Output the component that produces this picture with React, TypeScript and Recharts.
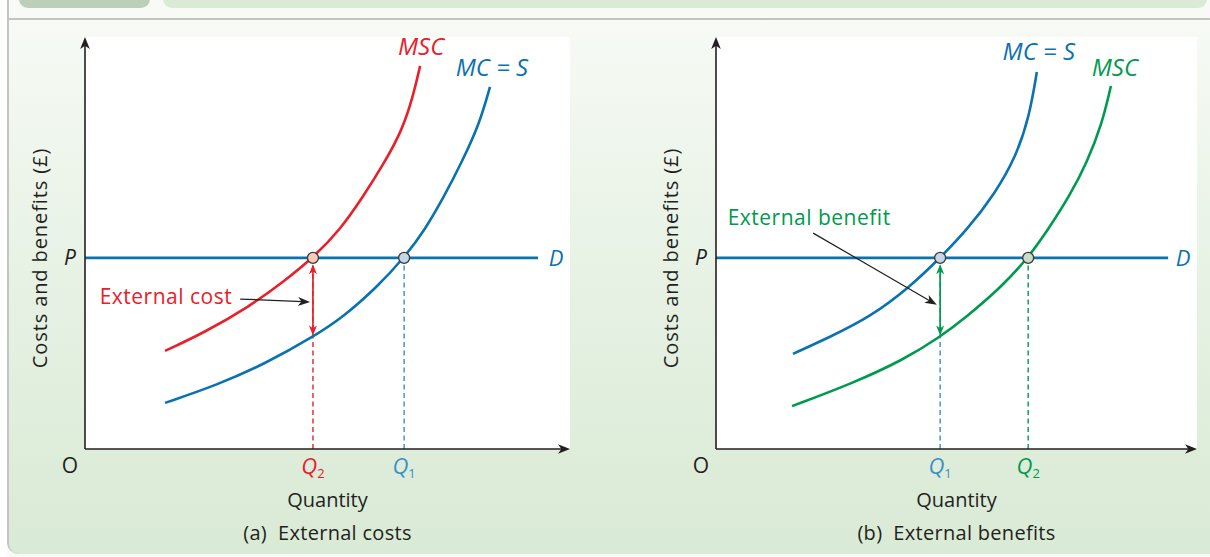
import type { ReactNode } from 'react'
import {
  ComposedChart,
  Line,
  XAxis,
  YAxis,
  CartesianGrid,
  ReferenceLine,
  ReferenceDot,
} from 'recharts'

const FONT = '"Open Sans", "Noto Sans", sans-serif'
const INK = '#231f20'
const RED = '#e8202a'
const BLUE = '#0b72b0'
const LIGHT_BLUE = '#3b8fc6'
const GREEN = '#009a4e'

// (a) External costs: quantity / £ pairs (axes run 0–100)
const A_MC_Q = [16.5, 27.2, 37.5, 47.0, 53.2, 60.2, 65.8, 70.1, 74.0, 77.6, 81.4, 83.5]
const A_MC_C = [11.2, 15.5, 20.9, 27.2, 32.0, 39.3, 46.4, 53.2, 61.2, 69.4, 79.1, 87.9]
const A_MSC_Q = [16.5, 24.5, 33.8, 40.8, 47.0, 52.6, 57.3, 61.7, 65.4, 67.6, 69.1]
const A_MSC_C = [23.8, 28.2, 34.5, 40.5, 46.4, 53.2, 61.2, 69.4, 77.4, 85.4, 93.0]
const A_P = 46.4
const A_Q1 = 65.8
const A_Q2 = 47.0
const A_MC_AT_Q2 = 27.2
const A_D_END = 93.4
const A_NOTE_FROM = [32.0, 36.4]
const A_NOTE_TO = [46.4, 35.7]

// (b) External benefits
const B_MC_Q = [16.0, 23.7, 32.0, 40.3, 46.6, 52.2, 58.0, 62.4, 65.2, 66.7]
const B_MC_C = [23.1, 27.2, 32.0, 39.3, 46.4, 53.2, 62.0, 71.0, 81.0, 91.5]
const B_MSC_Q = [15.8, 28.5, 38.9, 46.6, 52.0, 59.3, 64.9, 69.0, 73.4, 77.1, 80.3, 82.1]
const B_MSC_C = [10.4, 16.0, 21.6, 27.2, 32.0, 39.3, 46.4, 53.2, 61.2, 69.4, 79.1, 88.1]
const B_P = 46.4
const B_Q1 = 46.6
const B_Q2 = 64.9
const B_MSC_AT_Q1 = 27.2
const B_D_END = 94.0
const B_NOTE_FROM = [20.2, 52.4]
const B_NOTE_TO = [45.9, 35.0]

const zip = (q: number[], c: number[]) => q.map((v, i) => ({ q: v, c: c[i] }))

interface ArrowOpts {
  start?: boolean
  end?: boolean
  padStart?: number
  padEnd?: number
  len?: number
  half?: number
}

// ReferenceLine shape: a line with stealth arrow heads
const arrow = (color: string, width: number, o: ArrowOpts) => (p: any) => {
  const { x1, y1, x2, y2 } = p
  const dx = x2 - x1
  const dy = y2 - y1
  const L = Math.hypot(dx, dy) || 1
  const ux = dx / L
  const uy = dy / L
  const len = o.len ?? 10
  const half = o.half ?? 4
  const sx = x1 + ux * (o.padStart ?? 0)
  const sy = y1 + uy * (o.padStart ?? 0)
  const ex = x2 - ux * (o.padEnd ?? 0)
  const ey = y2 - uy * (o.padEnd ?? 0)
  const head = (tx: number, ty: number, vx: number, vy: number) => {
    const bx = tx - vx * len
    const by = ty - vy * len
    const mx = tx - vx * len * 0.72
    const my = ty - vy * len * 0.72
    return `${tx},${ty} ${bx - vy * half},${by + vx * half} ${mx},${my} ${bx + vy * half},${by - vx * half}`
  }
  const lx1 = o.start ? sx + ux * len * 0.6 : sx
  const ly1 = o.start ? sy + uy * len * 0.6 : sy
  const lx2 = o.end ? ex - ux * len * 0.6 : ex
  const ly2 = o.end ? ey - uy * len * 0.6 : ey
  return (
    <g>
      <line x1={lx1} y1={ly1} x2={lx2} y2={ly2} stroke={color} strokeWidth={width} />
      {o.end && <polygon points={head(ex, ey, ux, uy)} fill={color} />}
      {o.start && <polygon points={head(sx, sy, -ux, -uy)} fill={color} />}
    </g>
  )
}

interface TagStyle {
  dx?: number
  dy?: number
  anchor?: 'start' | 'middle' | 'end'
  size?: number
  color?: string
  italic?: boolean
  rotate?: boolean
  spacing?: number
}

// ReferenceDot shape: text placed relative to a data point
const tag = (content: ReactNode, s: TagStyle) => (dot: any) => {
  const size = s.size ?? 19
  const x = dot.cx + (s.dx ?? 0) + (s.rotate ? size * 0.35 : 0)
  const y = dot.cy + (s.dy ?? 0) + (s.rotate ? 0 : size * 0.35)
  return (
    <text
      x={x}
      y={y}
      textAnchor={s.anchor ?? 'middle'}
      fontFamily={FONT}
      fontSize={size}
      fill={s.color ?? INK}
      fontStyle={s.italic ? 'italic' : 'normal'}
      letterSpacing={s.spacing}
      transform={s.rotate ? `rotate(-90 ${x} ${y})` : undefined}
      style={{ whiteSpace: 'pre' }}
    >
      {content}
    </text>
  )
}

interface Curve {
  q: number[]
  c: number[]
  color: string
  label: string
  dx: number
  dy: number
}

interface Marker {
  q: number
  color: string
  dash: string
  fill: string
  sub: string
}

interface PanelProps {
  left: number
  width: number
  plotLeft: number
  plotWidth: number
  curves: Curve[]
  price: number
  dEnd: number
  dDx: number
  markers: Marker[]
  gapQ: number
  gapLow: number
  gapColor: string
  note: string
  noteColor: string
  noteFrom: number[]
  noteTo: number[]
  noteStyle: TagStyle
  caption: string
}

function Panel(p: PanelProps) {
  return (
    <div style={{ position: 'absolute', left: p.left, top: 0 }}>
      <ComposedChart
        width={p.width}
        height={557}
        margin={{ top: 37, right: p.width - p.plotLeft - p.plotWidth, bottom: 108, left: p.plotLeft }}
      >
        <CartesianGrid fill="#ffffff" stroke="none" horizontal={false} vertical={false} />
        <XAxis type="number" dataKey="q" domain={[0, 100]} hide />
        <YAxis type="number" domain={[0, 100]} hide />

        {/* dashed drop lines */}
        {p.markers.map((m) => (
          <ReferenceLine
            key={'drop' + m.sub}
            segment={[{ x: m.q, y: 0 }, { x: m.q, y: p.price }]}
            stroke={m.dash}
            strokeWidth={1.4}
            strokeDasharray="5 3.5"
            ifOverflow="visible"
          />
        ))}

        {/* demand */}
        <ReferenceLine
          segment={[{ x: 0, y: p.price }, { x: p.dEnd, y: p.price }]}
          stroke={BLUE}
          strokeWidth={2.6}
          ifOverflow="visible"
        />

        {p.curves.map((c) => (
          <Line
            key={c.label + c.color}
            data={zip(c.q, c.c)}
            dataKey="c"
            type="basis"
            stroke={c.color}
            strokeWidth={2.6}
            dot={false}
            activeDot={false}
            isAnimationActive={false}
          />
        ))}

        {/* external cost / benefit gap */}
        <ReferenceLine
          segment={[{ x: p.gapQ, y: p.price }, { x: p.gapQ, y: p.gapLow }]}
          ifOverflow="visible"
          shape={arrow(p.gapColor, 1.7, { start: true, end: true, padStart: 6.5, padEnd: 1.5, len: 10, half: 4 })}
        />
        <ReferenceLine
          segment={[
            { x: p.noteFrom[0], y: p.noteFrom[1] },
            { x: p.noteTo[0], y: p.noteTo[1] },
          ]}
          ifOverflow="visible"
          shape={arrow(INK, 1.2, { end: true, len: 12, half: 4.5 })}
        />

        {/* axes */}
        <ReferenceLine
          segment={[{ x: 0, y: 0 }, { x: 0, y: 100 }]}
          ifOverflow="visible"
          shape={arrow(INK, 1.6, { end: true, len: 12, half: 4.8 })}
        />
        <ReferenceLine
          segment={[{ x: 0, y: 0 }, { x: 100, y: 0 }]}
          ifOverflow="visible"
          shape={arrow(INK, 1.6, { end: true, len: 12, half: 4.8 })}
        />

        {/* equilibrium points */}
        {p.markers.map((m) => (
          <ReferenceDot
            key={'pt' + m.sub}
            x={m.q}
            y={p.price}
            r={5.5}
            fill={m.fill}
            stroke="#3a3a3a"
            strokeWidth={1.3}
            ifOverflow="visible"
          />
        ))}

        {/* tick labels */}
        <ReferenceDot x={0} y={0} r={1} ifOverflow="visible" shape={tag('O', { dx: -15, dy: 17, size: 21 })} />
        <ReferenceDot x={0} y={p.price} r={1} ifOverflow="visible" shape={tag('P', { dx: -15, size: 21, italic: true })} />
        {p.markers.map((m) => (
          <ReferenceDot
            key={'tick' + m.sub}
            x={m.q}
            y={0}
            r={1}
            ifOverflow="visible"
            shape={tag(
              <>
                Q
                <tspan fontSize={13} fontStyle="normal" dy={4}>
                  {m.sub}
                </tspan>
              </>,
              { dy: 17, size: 22, italic: true, color: m.color },
            )}
          />
        ))}
        <ReferenceDot
          x={p.dEnd}
          y={p.price}
          r={1}
          ifOverflow="visible"
          shape={tag('D', { dx: p.dDx, size: 22, italic: true, color: BLUE })}
        />

        {/* curve names */}
        {p.curves.map((c) => (
          <ReferenceDot
            key={'name' + c.label + c.color}
            x={c.q[c.q.length - 1]}
            y={c.c[c.c.length - 1]}
            r={1}
            ifOverflow="visible"
            shape={tag(c.label, { dx: c.dx, dy: c.dy, size: 24, italic: true, color: c.color })}
          />
        ))}

        <ReferenceDot
          x={p.noteFrom[0]}
          y={p.noteFrom[1]}
          r={1}
          ifOverflow="visible"
          shape={tag(p.note, { ...p.noteStyle, size: 21, color: p.noteColor, spacing: 0.5 })}
        />

        {/* axis titles and caption */}
        <ReferenceDot
          x={0}
          y={50}
          r={1}
          ifOverflow="visible"
          shape={tag('Costs and benefits (£)', { dx: -45, dy: 15, size: 20, rotate: true, spacing: 0.9 })}
        />
        <ReferenceDot x={50} y={0} r={1} ifOverflow="visible" shape={tag('Quantity', { dy: 51, size: 20 })} />
        <ReferenceDot
          x={50}
          y={0}
          r={1}
          ifOverflow="visible"
          shape={tag(p.caption, { dy: 84, size: 20, spacing: 0.3 })}
        />
      </ComposedChart>
    </div>
  )
}

export default function App() {
  return (
    <div
      style={{
        position: 'absolute',
        left: 0,
        top: 0,
        width: 1210,
        height: 557,
        overflow: 'hidden',
        background: '#f8faf6',
      }}
    >
      {/* header strip */}
      <div style={{ position: 'absolute', left: 19, top: -12, width: 131, height: 20, background: '#bccfbb', borderRadius: 9 }} />
      <div style={{ position: 'absolute', left: 163, top: -12, width: 1044, height: 20, background: '#d9ead5', borderRadius: 9 }} />
      <div style={{ position: 'absolute', left: 0, top: 0, width: 7, height: 557, background: '#ffffff' }} />
      <div
        style={{
          position: 'absolute',
          left: 7,
          top: -4,
          width: 1220,
          height: 558,
          borderLeft: '2px solid #c4c4c4',
          borderBottom: '2px solid #c4c4c4',
          borderBottomLeftRadius: 12,
          boxSizing: 'border-box',
        }}
      />
      <div
        style={{
          position: 'absolute',
          left: 9,
          top: 18,
          width: 1210,
          height: 534,
          borderTop: '2px solid #c4c4c4',
          borderBottomLeftRadius: 10,
          background: 'linear-gradient(to bottom, #f7faf5 0%, #e8f2e5 45%, #d9ead5 100%)',
        }}
      />

      <Panel
        left={0}
        width={600}
        plotLeft={85}
        plotWidth={485}
        curves={[
          { q: A_MSC_Q, c: A_MSC_C, color: RED, label: 'MSC', dx: 1, dy: -19 },
          { q: A_MC_Q, c: A_MC_C, color: BLUE, label: 'MC = S', dx: 2, dy: -19 },
        ]}
        price={A_P}
        dEnd={A_D_END}
        dDx={18}
        markers={[
          { q: A_Q2, color: RED, dash: RED, fill: '#f9cbb6', sub: '2' },
          { q: A_Q1, color: LIGHT_BLUE, dash: LIGHT_BLUE, fill: '#c7d6e6', sub: '1' },
        ]}
        gapQ={A_Q2}
        gapLow={A_MC_AT_Q2}
        gapColor={RED}
        note="External cost"
        noteColor={RED}
        noteFrom={A_NOTE_FROM}
        noteTo={A_NOTE_TO}
        noteStyle={{ dx: -8, dy: -2, anchor: 'end' }}
        caption={'(a)\u00a0 External costs'}
      />

      <Panel
        left={605}
        width={605}
        plotLeft={111}
        plotWidth={481}
        curves={[
          { q: B_MC_Q, c: B_MC_C, color: BLUE, label: 'MC = S', dx: 2, dy: -20 },
          { q: B_MSC_Q, c: B_MSC_C, color: GREEN, label: 'MSC', dx: 4, dy: -18 },
        ]}
        price={B_P}
        dEnd={B_D_END}
        dDx={15}
        markers={[
          { q: B_Q1, color: LIGHT_BLUE, dash: LIGHT_BLUE, fill: '#c7d6e6', sub: '1' },
          { q: B_Q2, color: GREEN, dash: GREEN, fill: '#c9dcc7', sub: '2' },
        ]}
        gapQ={B_Q1}
        gapLow={B_MSC_AT_Q1}
        gapColor={GREEN}
        note="External benefit"
        noteColor={GREEN}
        noteFrom={B_NOTE_FROM}
        noteTo={B_NOTE_TO}
        noteStyle={{ dx: -4, dy: -15, anchor: 'middle' }}
        caption={'(b)\u00a0 External benefits'}
      />
    </div>
  )
}
